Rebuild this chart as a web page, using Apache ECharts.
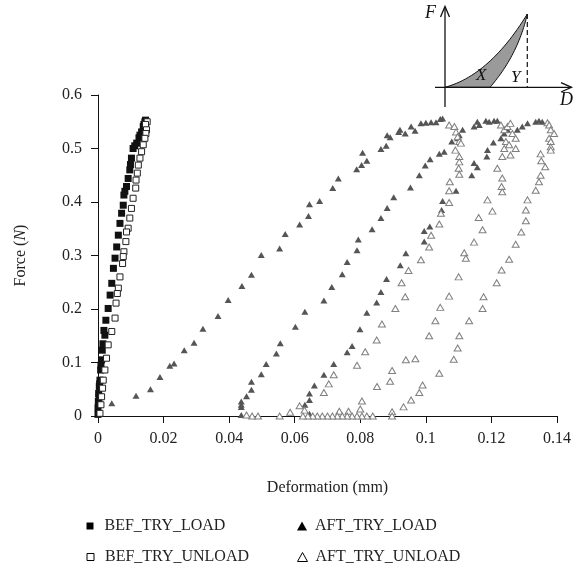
<!DOCTYPE html>
<html>
<head>
<meta charset="utf-8">
<script src="https://cdn.jsdelivr.net/npm/echarts@6/dist/echarts.min.js"></script>
<style>
html,body{margin:0;padding:0;background:#fff;}
#chart{width:574px;height:567px;}
</style>
</head>
<body>
<div id="chart"></div>
<script>
var FONT = "'Liberation Serif','Times New Roman',serif";

var xTicks = [0, 0.02, 0.04, 0.06, 0.08, 0.1, 0.12, 0.14];
var yTicks = [0, 0.1, 0.2, 0.3, 0.4, 0.5, 0.6];

var seriesNames = ['BEF_TRY_LOAD', 'BEF_TRY_UNLOAD', 'AFT_TRY_LOAD', 'AFT_TRY_UNLOAD'];

var befLoad = [
  [0,0.003],[0,0.015],[0.0001,0.027],[0.0003,0.035],[0.0002,0.042],[0.0004,0.055],[0.0005,0.060],
  [0.0006,0.067],[0.0008,0.086],[0.0009,0.095],[0.0011,0.105],[0.0013,0.123],[0.0015,0.135],
  [0.0021,0.151],[0.0018,0.160],[0.0024,0.179],[0.0031,0.201],[0.0037,0.226],[0.0042,0.248],
  [0.0047,0.276],[0.0052,0.295],[0.0057,0.316],[0.0062,0.338],[0.0067,0.360],[0.0072,0.379],
  [0.0077,0.394],[0.0079,0.413],[0.0082,0.420],[0.0087,0.429],[0.0092,0.444],[0.0097,0.460],
  [0.0099,0.470],[0.0102,0.482],[0.0107,0.500],[0.0112,0.505],[0.0118,0.510],[0.0125,0.520],
  [0.0128,0.525],[0.0133,0.531],[0.0138,0.541],[0.0140,0.545],[0.0143,0.550],[0.0145,0.553]
];

var befUnload = [
  [0.0150,0.550],[0.0145,0.545],[0.0148,0.535],[0.0146,0.528],[0.0143,0.519],[0.0138,0.507],
  [0.0133,0.494],[0.0128,0.482],[0.0123,0.469],[0.0120,0.454],[0.0116,0.441],[0.0115,0.426],
  [0.0107,0.407],[0.0102,0.388],[0.0097,0.370],[0.0092,0.351],[0.0087,0.344],[0.0085,0.326],
  [0.0079,0.307],[0.0077,0.298],[0.0075,0.285],[0.0067,0.260],[0.0062,0.239],[0.0059,0.229],
  [0.0055,0.211],[0.0052,0.183],[0.0042,0.158],[0.0031,0.133],[0.0026,0.108],[0.0021,0.086],
  [0.0016,0.067],[0.0014,0.052],[0.0011,0.036],[0.0009,0.021],[0.0006,0.005]
];

var aftLoad = [
  // cycle 1
  [0.0042,0.024],[0.0116,0.038],[0.0160,0.050],[0.0189,0.073],[0.0219,0.094],[0.0232,0.098],
  [0.0263,0.123],[0.0293,0.137],[0.0320,0.163],[0.0366,0.187],[0.0397,0.217],[0.0439,0.243],
  [0.0468,0.264],[0.0498,0.301],[0.0554,0.313],[0.0571,0.340],[0.0615,0.358],[0.0642,0.374],
  [0.0645,0.396],[0.0676,0.402],[0.0716,0.426],[0.0733,0.444],[0.0789,0.461],[0.0804,0.469],
  [0.0820,0.477],[0.0807,0.492],[0.0863,0.499],[0.0879,0.505],[0.0882,0.525],[0.0891,0.521],
  [0.0917,0.531],[0.0921,0.535],[0.0937,0.528],[0.0955,0.541],[0.0967,0.533],[0.0985,0.547],
  [0.1000,0.548],[0.1016,0.549],[0.1031,0.549],[0.1044,0.555],[0.1051,0.556],
  // cycle 2
  [0.0437,0.002],[0.0437,0.017],[0.0437,0.021],[0.0437,0.027],[0.0453,0.037],[0.0468,0.049],
  [0.0468,0.064],[0.0498,0.078],[0.0513,0.097],[0.0544,0.117],[0.0556,0.136],[0.0602,0.167],
  [0.0631,0.195],[0.0689,0.216],[0.0713,0.241],[0.0745,0.265],[0.0760,0.288],[0.0790,0.310],
  [0.0794,0.330],[0.0836,0.349],[0.0863,0.370],[0.0882,0.389],[0.0902,0.409],[0.0953,0.427],
  [0.0980,0.450],[0.0998,0.468],[0.1013,0.480],[0.1041,0.490],[0.1056,0.494],[0.1079,0.513],
  [0.1097,0.519],[0.1102,0.525],[0.1112,0.535],[0.1147,0.541],[0.1163,0.544],[0.1157,0.550],
  [0.1183,0.552],[0.1193,0.550],[0.1208,0.552],[0.1218,0.552],
  // cycle 3
  [0.0645,0.004],[0.0631,0.021],[0.0645,0.030],[0.0645,0.042],[0.0660,0.057],[0.0689,0.077],
  [0.0719,0.097],[0.0760,0.119],[0.0775,0.131],[0.0799,0.162],[0.0820,0.193],[0.0850,0.212],
  [0.0863,0.232],[0.0880,0.256],[0.0922,0.282],[0.0939,0.304],[0.0995,0.326],[0.0995,0.346],
  [0.1012,0.354],[0.1048,0.385],[0.1051,0.402],[0.1092,0.421],[0.1140,0.450],[0.1147,0.473],
  [0.1157,0.465],[0.1186,0.485],[0.1188,0.497],[0.1206,0.511],[0.1229,0.519],[0.1239,0.528],
  [0.1249,0.535],[0.1279,0.535],[0.1294,0.541],[0.1310,0.547],[0.1335,0.550],[0.1345,0.552],
  [0.1355,0.550]
];

var aftUnload = [
  // cycle 1
  [0.1071,0.544],[0.1087,0.541],[0.1092,0.531],[0.1097,0.522],[0.1102,0.513],[0.1107,0.510],
  [0.1090,0.497],[0.1102,0.485],[0.1102,0.475],[0.1100,0.463],[0.1102,0.452],[0.1073,0.438],
  [0.1071,0.421],[0.1071,0.399],[0.1046,0.379],[0.1041,0.359],[0.1016,0.338],[0.1010,0.316],
  [0.0985,0.292],[0.0947,0.272],[0.0926,0.249],[0.0937,0.223],[0.0907,0.201],[0.0866,0.172],
  [0.0850,0.142],[0.0815,0.120],[0.0790,0.095],[0.0719,0.077],[0.0704,0.060],[0.0689,0.044],
  [0.0615,0.019],[0.0630,0.011],[0.0586,0.007],[0.0554,0],[0.0488,0],[0.0470,0],[0.0453,0.002],
  // cycle 2
  [0.1229,0.544],[0.1239,0.535],[0.1249,0.541],[0.1258,0.547],
  [0.1264,0.528],[0.1274,0.519],[0.1244,0.513],[0.1254,0.507],[0.1239,0.500],[0.1274,0.500],
  [0.1258,0.488],[0.1233,0.485],[0.1218,0.463],[0.1233,0.445],[0.1231,0.429],[0.1233,0.419],
  [0.1188,0.404],[0.1203,0.383],[0.1161,0.371],[0.1173,0.348],[0.1147,0.325],[0.1117,0.305],
  [0.1122,0.295],[0.1100,0.260],[0.1071,0.224],[0.1044,0.203],[0.1029,0.178],[0.1010,0.150],
  [0.0968,0.107],[0.0939,0.105],[0.0897,0.085],[0.0891,0.065],[0.0851,0.055],[0.0805,0.028],
  [0.0800,0.013],[0.0764,0.009],[0.0736,0.009],[0.0838,0],[0.0820,0],[0.0805,0],[0.0790,0],
  [0.0775,0],[0.0760,0],[0.0745,0],[0.0730,0],[0.0715,0],[0.0700,0],[0.0684,0],[0.0669,0],
  [0.0655,0],[0.0640,0],[0.0625,0],
  // cycle 3
  [0.1371,0.548],[0.1376,0.544],[0.1381,0.535],[0.1391,0.528],[0.1376,0.519],[0.1381,0.513],
  [0.1381,0.503],[0.1381,0.497],[0.1350,0.490],[0.1352,0.477],[0.1364,0.466],[0.1350,0.450],
  [0.1345,0.438],[0.1335,0.422],[0.1310,0.404],[0.1305,0.385],[0.1305,0.365],[0.1291,0.344],
  [0.1274,0.321],[0.1254,0.293],[0.1231,0.273],[0.1216,0.249],[0.1176,0.223],[0.1173,0.201],
  [0.1132,0.178],[0.1102,0.150],[0.1097,0.127],[0.1085,0.106],[0.1041,0.080],[0.0990,0.058],
  [0.0980,0.044],[0.0955,0.030],[0.0932,0.017],[0.0897,0.008],[0.0897,0]
];

// inset schematic (decorative sketch, not data): quadratic curves sampled into a polygon
function quad(p0, c, p1, n) {
  var pts = [];
  for (var i = 0; i <= n; i++) {
    var t = i / n, u = 1 - t;
    pts.push([u * u * p0[0] + 2 * u * t * c[0] + t * t * p1[0],
              u * u * p0[1] + 2 * u * t * c[1] + t * t * p1[1]]);
  }
  return pts;
}
var insetShape = quad([445, 87.3], [490, 75], [527.3, 14], 30)
  .concat(quad([527.3, 14], [518, 55], [490, 87.3], 30).slice(1));

var chart = echarts.init(document.getElementById('chart'), null, {renderer: 'canvas'});

var txt = {fontFamily: FONT, fontSize: 16, color: '#222'};

function legendItem(item, left, top, w, h, pad) {
  return {
    data: [item], orient: 'horizontal', left: left, top: top,
    itemWidth: w, itemHeight: h, selectedMode: false, padding: 0,
    textStyle: Object.assign({padding: [0, 0, 0, pad]}, txt)
  };
}

var option = {
  animation: false,
  backgroundColor: '#fff',
  grid: {left: 98, right: 16, top: 95, bottom: 151, containLabel: false},
  xAxis: {
    type: 'value', min: xTicks[0], max: xTicks[xTicks.length - 1], interval: xTicks[1] - xTicks[0],
    axisLine: {show: true, lineStyle: {color: '#111', width: 1}},
    axisTick: {show: true, length: 7, lineStyle: {color: '#111'}},
    splitLine: {show: false},
    axisLabel: Object.assign({margin: 15}, txt),
    name: 'Deformation (mm)', nameLocation: 'middle', nameGap: 64,
    nameTextStyle: txt
  },
  yAxis: {
    type: 'value', min: yTicks[0], max: yTicks[yTicks.length - 1], interval: yTicks[1] - yTicks[0],
    axisLine: {show: true, lineStyle: {color: '#111', width: 1}},
    axisTick: {show: true, length: 7, lineStyle: {color: '#111'}},
    splitLine: {show: false},
    axisLabel: Object.assign({margin: 16}, txt),
    name: 'Force ({i|N})', nameLocation: 'middle', nameGap: 69,
    nameTextStyle: Object.assign({rich: {i: {fontFamily: FONT, fontSize: 16, fontStyle: 'italic', color: '#222'}}}, txt)
  },
  legend: [
    legendItem({name: seriesNames[0], icon: 'rect', itemStyle: {color: '#000', borderWidth: 0}}, 86.5, 518, 7, 7, 6),
    legendItem({name: seriesNames[1], icon: 'rect', itemStyle: {color: '#fff', borderColor: '#000', borderWidth: 1}}, 86.5, 549, 7, 7, 6),
    legendItem({name: seriesNames[2], icon: 'triangle', itemStyle: {color: '#000', borderWidth: 0}}, 297, 518, 10, 9, 3),
    legendItem({name: seriesNames[3], icon: 'triangle', itemStyle: {color: '#fff', borderColor: '#000', borderWidth: 1}}, 297, 549, 10, 9, 3)
  ],
  series: [
    {name: seriesNames[2], type: 'scatter', data: aftLoad, symbol: 'triangle', symbolSize: [7, 6],
     itemStyle: {color: '#555', opacity: 1}},
    {name: seriesNames[3], type: 'scatter', data: aftUnload, symbol: 'triangle', symbolSize: [7, 6],
     itemStyle: {color: '#fff', borderColor: '#808080', borderWidth: 1, opacity: 1}},
    {name: seriesNames[0], type: 'scatter', data: befLoad, symbol: 'rect', symbolSize: 7,
     itemStyle: {color: '#111', opacity: 1}},
    {name: seriesNames[1], type: 'scatter', data: befUnload, symbol: 'rect', symbolSize: 6,
     itemStyle: {color: '#fff', borderColor: '#222', borderWidth: 1, opacity: 1}}
  ],
  graphic: [
    {type: 'polygon', shape: {points: insetShape},
     style: {fill: '#9a9a9a', stroke: '#111', lineWidth: 1}},
    {type: 'line', shape: {x1: 527.3, y1: 14, x2: 527.3, y2: 87.3},
     style: {stroke: '#111', lineWidth: 1.2, lineDash: [5, 3]}},
    {type: 'line', shape: {x1: 445, y1: 107, x2: 445, y2: 7},
     style: {stroke: '#111', lineWidth: 1.3}},
    {type: 'polyline', shape: {points: [[440.5, 17], [445, 6.5], [449.5, 17]]},
     style: {stroke: '#111', lineWidth: 1.3, fill: null}},
    {type: 'line', shape: {x1: 435, y1: 87.3, x2: 571, y2: 87.3},
     style: {stroke: '#111', lineWidth: 1.3}},
    {type: 'polyline', shape: {points: [[561, 82.7], [571.5, 87.3], [561, 92]]},
     style: {stroke: '#111', lineWidth: 1.3, fill: null}},
    {type: 'text', x: 425, y: 4,
     style: {text: 'F', font: 'italic 18px ' + FONT, fill: '#111'}},
    {type: 'text', x: 560, y: 91,
     style: {text: 'D', font: 'italic 18px ' + FONT, fill: '#111'}},
    {type: 'text', x: 476, y: 67,
     style: {text: 'X', font: 'italic 17px ' + FONT, fill: '#111'}},
    {type: 'text', x: 511, y: 69,
     style: {text: 'Y', font: 'italic 17px ' + FONT, fill: '#111'}}
  ]
};

chart.setOption(option);
</script>
</body>
</html>
